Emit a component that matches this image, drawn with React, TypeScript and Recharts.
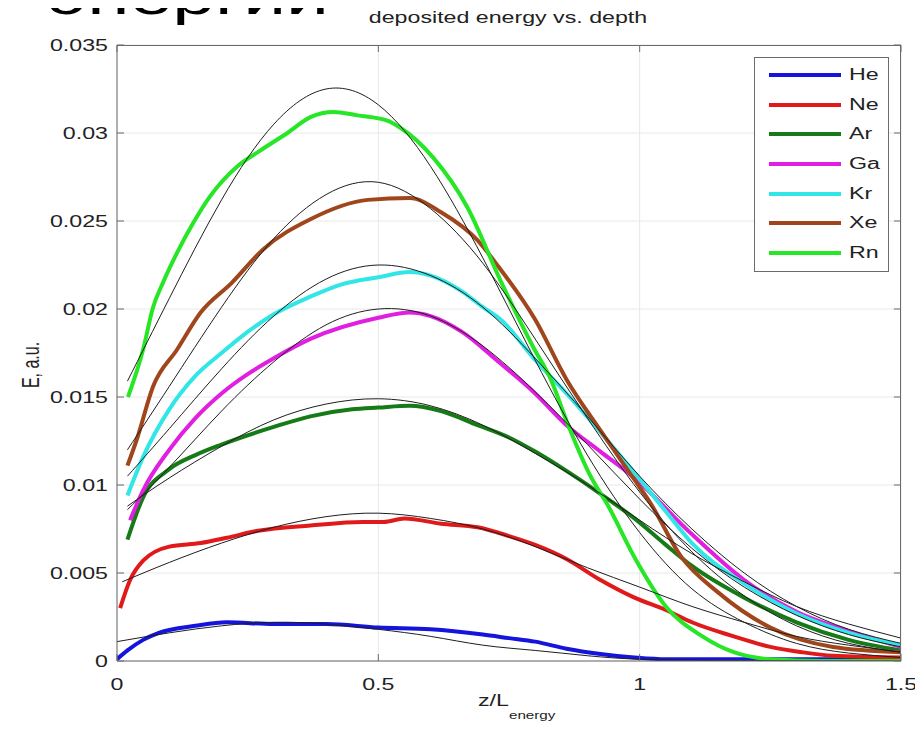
import React from 'react';
import { LineChart, Line, XAxis, YAxis, CartesianGrid, Legend } from 'recharts';

// measured curves [z/L, E]
const heLine = [[0, 0.0001], [0.02, 0.0006], [0.05, 0.0012], [0.08, 0.0016], [0.15, 0.002], [0.21, 0.0022], [0.3, 0.0021], [0.4, 0.0021], [0.5, 0.0019], [0.6, 0.0018], [0.7, 0.0015], [0.75, 0.0013], [0.8, 0.0011], [0.86, 0.0007], [0.925, 0.0004], [0.99, 0.0002], [1.05, 0.0001], [1.2, 0.0001], [1.5, 0.0001]];
const neLine = [[0.006, 0.003], [0.025, 0.0046], [0.05, 0.0057], [0.1, 0.0065], [0.16, 0.0067], [0.21, 0.007], [0.27, 0.0074], [0.37, 0.0077], [0.47, 0.0079], [0.51, 0.0079], [0.55, 0.0081], [0.62, 0.0078], [0.69, 0.0076], [0.75, 0.0071], [0.8, 0.0066], [0.86, 0.0058], [0.925, 0.0046], [0.99, 0.0036], [1.05, 0.0029], [1.1, 0.0022], [1.18, 0.0014], [1.25, 0.0008], [1.31, 0.0005], [1.37, 0.0003], [1.5, 0.0002]];
const arLine = [[0.02, 0.0069], [0.05, 0.0093], [0.1, 0.0109], [0.15, 0.0117], [0.2, 0.0123], [0.3, 0.0133], [0.37, 0.0139], [0.45, 0.0143], [0.5, 0.0144], [0.56, 0.0145], [0.62, 0.0142], [0.69, 0.0134], [0.75, 0.0127], [0.8, 0.0119], [0.86, 0.0108], [0.925, 0.0095], [0.99, 0.0081], [1.05, 0.0066], [1.1, 0.0054], [1.2, 0.0036], [1.3, 0.0022], [1.4, 0.0012], [1.5, 0.0006]];
const gaLine = [[0.025, 0.008], [0.05, 0.0097], [0.1, 0.012], [0.15, 0.0138], [0.2, 0.0152], [0.25, 0.0163], [0.3, 0.0172], [0.37, 0.0183], [0.5, 0.0195], [0.56, 0.0198], [0.6, 0.0196], [0.66, 0.0187], [0.73, 0.017], [0.8, 0.0152], [0.86, 0.0134], [0.925, 0.0119], [0.99, 0.0104], [1.1, 0.0072], [1.2, 0.0046], [1.3, 0.0028], [1.4, 0.0017], [1.5, 0.0008]];
const krLine = [[0.02, 0.0094], [0.05, 0.0116], [0.1, 0.0143], [0.15, 0.0162], [0.2, 0.0175], [0.25, 0.0187], [0.3, 0.0197], [0.37, 0.0207], [0.43, 0.0214], [0.5, 0.0218], [0.56, 0.0221], [0.6, 0.0219], [0.66, 0.021], [0.7, 0.0201], [0.734, 0.0194], [0.8, 0.0171], [0.86, 0.0152], [0.925, 0.013], [0.99, 0.0107], [1.05, 0.0085], [1.1, 0.0067], [1.2, 0.0044], [1.3, 0.0027], [1.4, 0.0016], [1.5, 0.0009]];
const xeLine = [[0.02, 0.0111], [0.038, 0.0126], [0.069, 0.0156], [0.115, 0.0177], [0.16, 0.0198], [0.22, 0.0215], [0.28, 0.0234], [0.37, 0.0251], [0.48, 0.0262], [0.56, 0.0263], [0.62, 0.0255], [0.69, 0.0239], [0.73, 0.0224], [0.8, 0.0194], [0.86, 0.016], [0.925, 0.0131], [0.99, 0.0103], [1.02, 0.009], [1.08, 0.0059], [1.15, 0.0039], [1.25, 0.0019], [1.37, 0.0008], [1.5, 0.0005]];
const rnLine = [[0.021, 0.015], [0.05, 0.0177], [0.069, 0.0201], [0.088, 0.0215], [0.115, 0.0232], [0.146, 0.0249], [0.178, 0.0264], [0.23, 0.0281], [0.274, 0.029], [0.326, 0.03], [0.37, 0.0309], [0.414, 0.0312], [0.46, 0.031], [0.517, 0.0307], [0.542, 0.0303], [0.605, 0.0286], [0.67, 0.0258], [0.734, 0.0216], [0.797, 0.0178], [0.83, 0.016], [0.862, 0.0135], [0.906, 0.0105], [0.94, 0.0088], [0.99, 0.0059], [1.05, 0.0031], [1.12, 0.0014], [1.18, 0.0005], [1.25, 0.0001], [1.35, 0], [1.5, 0]];

// fitted curves (thin black)
const heFit = [[0, 0.0011], [0.1, 0.0016], [0.2, 0.002], [0.3, 0.0022], [0.4, 0.0021], [0.5, 0.0018], [0.6, 0.0014], [0.7, 0.0009], [0.8, 0.0006], [0.9, 0.0003], [1.0, 0.0001], [1.1, 0.00005], [1.2, 0.00002], [1.5, 0]];
const neFit = [[0.01, 0.0045], [0.1, 0.0056], [0.2, 0.0067], [0.3, 0.0076], [0.4, 0.0082], [0.5, 0.0084], [0.6, 0.0081], [0.7, 0.0075], [0.8, 0.0065], [0.9, 0.0053], [1.0, 0.0042], [1.1, 0.0031], [1.2, 0.0022], [1.3, 0.0014], [1.4, 0.0009], [1.5, 0.0005]];
const arFit = [[0.02, 0.0088], [0.1, 0.0104], [0.2, 0.0122], [0.3, 0.0137], [0.4, 0.0146], [0.5, 0.0149], [0.6, 0.0145], [0.7, 0.0134], [0.8, 0.0118], [0.9, 0.01], [1.0, 0.008], [1.1, 0.0061], [1.2, 0.0045], [1.3, 0.0031], [1.4, 0.0021], [1.5, 0.0013]];
const gaFit = [[0.02, 0.0086], [0.1, 0.011], [0.2, 0.0142], [0.3, 0.017], [0.4, 0.0191], [0.5, 0.02], [0.6, 0.0196], [0.7, 0.0179], [0.8, 0.0153], [0.9, 0.0123], [1.0, 0.0092], [1.1, 0.0064], [1.2, 0.0042], [1.3, 0.0026], [1.4, 0.0015], [1.5, 0.0008]];
const krFit = [[0.02, 0.0105], [0.1, 0.0132], [0.2, 0.0166], [0.3, 0.0196], [0.4, 0.0217], [0.5, 0.0225], [0.6, 0.0219], [0.7, 0.0201], [0.8, 0.0172], [0.9, 0.0139], [1.0, 0.0105], [1.1, 0.0075], [1.2, 0.005], [1.3, 0.0031], [1.4, 0.0018], [1.5, 0.001]];
const xeFit = [[0.02, 0.012], [0.1, 0.0156], [0.2, 0.0201], [0.3, 0.024], [0.4, 0.0265], [0.5, 0.0272], [0.6, 0.0257], [0.7, 0.0226], [0.8, 0.0183], [0.9, 0.0138], [1.0, 0.0096], [1.1, 0.0062], [1.2, 0.0037], [1.3, 0.002], [1.4, 0.001], [1.5, 0.0005]];
const rnFit = [[0.02, 0.0159], [0.1, 0.0206], [0.2, 0.0262], [0.3, 0.0305], [0.4, 0.0325], [0.5, 0.0316], [0.6, 0.0281], [0.7, 0.0229], [0.8, 0.0171], [0.9, 0.0117], [1.0, 0.0073], [1.1, 0.0041], [1.2, 0.0022], [1.3, 0.001], [1.4, 0.00045], [1.5, 0.0002]];

const xTicks = [0, 0.5, 1, 1.5];
const yTicks = [0, 0.005, 0.01, 0.015, 0.02, 0.025, 0.03, 0.035];
const X_MAX = 1.5;
const Y_MAX = 0.035;

const series = [
  { name: 'He', color: '#1414dc', line: heLine, fit: heFit },
  { name: 'Ne', color: '#e01a1a', line: neLine, fit: neFit },
  { name: 'Ar', color: '#167a16', line: arLine, fit: arFit },
  { name: 'Ga', color: '#e01fe0', line: gaLine, fit: gaFit },
  { name: 'Kr', color: '#30e6e6', line: krLine, fit: krFit },
  { name: 'Xe', color: '#a0461c', line: xeLine, fit: xeFit },
  { name: 'Rn', color: '#26e626', line: rnLine, fit: rnFit },
];

const toPoints = (pairs: number[][]) => pairs.map(([z, e]) => ({ z, e }));

// plot box in page pixels
const W = 923;
const H = 739;
const M = { top: 45, right: 22, bottom: 48, left: 0 };
const X_AXIS_H = 30;
const Y_AXIS_W = 117;
const BOX = { left: Y_AXIS_W, top: M.top, right: W - M.right, bottom: H - M.bottom - X_AXIS_H };

const FONT = '"Liberation Sans", Arial, sans-serif';
const AXIS = '#6b6b6b';
const SX = 1.45; // the original picture is stretched sideways

const stretch = (x: number) => `translate(${x} 0) scale(${SX} 1) translate(${-x} 0)`;

const BottomTick = ({ x, y, payload }: any) => (
  <g>
    <line x1={x} y1={y} x2={x} y2={y - 7} stroke={AXIS} />
    <text x={x} y={y + 29} textAnchor="middle" fontSize={16} fontFamily={FONT} fill="#222" transform={stretch(x)}>
      {payload.value}
    </text>
  </g>
);

const LeftTick = ({ x, y, payload }: any) => (
  <g>
    <line x1={x} y1={y} x2={x + 7} y2={y} stroke={AXIS} />
    <text x={x - 9} y={y + 6} textAnchor="end" fontSize={16} fontFamily={FONT} fill="#222" transform={stretch(x - 9)}>
      {payload.value}
    </text>
  </g>
);

// legend keeps the plotting order, not alphabetical
const renderLegend = () => (
  <div style={{ width: 133, height: 211, border: `1px solid ${AXIS}`, background: '#fff', paddingTop: 2, boxSizing: 'content-box' }}>
    {series.map((s) => (
      <div key={s.name} style={{ height: 29.7, display: 'flex', alignItems: 'center' }}>
        <div style={{ width: 72, height: 4, background: s.color, marginLeft: 14, marginRight: 8 }} />
        <span style={{ fontFamily: FONT, fontSize: 16, color: '#222', display: 'inline-block', transform: `scaleX(${SX})`, transformOrigin: 'left center' }}>
          {s.name}
        </span>
      </div>
    ))}
  </div>
);

export default function App() {
  const bw = BOX.right - BOX.left;
  const bh = BOX.bottom - BOX.top;
  return (
    <div style={{ position: 'relative', width: W, height: H, margin: -8, overflow: 'hidden', background: '#fff' }}>
      <LineChart width={W} height={H} margin={M}>
        <CartesianGrid stroke="#e8e8e8" />
        <XAxis
          dataKey="z"
          type="number"
          domain={[0, X_MAX]}
          ticks={xTicks}
          height={X_AXIS_H}
          tickSize={0}
          tickMargin={0}
          tick={<BottomTick />}
          stroke={AXIS}
          allowDataOverflow
        />
        <YAxis
          type="number"
          domain={[0, Y_MAX]}
          ticks={yTicks}
          width={Y_AXIS_W}
          tickSize={0}
          tickMargin={0}
          tick={<LeftTick />}
          stroke={AXIS}
          allowDataOverflow
        />
        {series.map((s) => (
          <Line
            key={s.name}
            data={toPoints(s.line)}
            dataKey="e"
            name={s.name}
            type="monotone"
            stroke={s.color}
            strokeWidth={4}
            dot={false}
            activeDot={false}
            isAnimationActive={false}
          />
        ))}
        {series.map((s) => (
          <Line
            key={s.name + '-fit'}
            data={toPoints(s.fit)}
            dataKey="e"
            name={s.name + ' fit'}
            type="natural"
            stroke="#1e1e1e"
            strokeWidth={1}
            dot={false}
            activeDot={false}
            legendType="none"
            isAnimationActive={false}
          />
        ))}
        <Legend
          layout="vertical"
          align="center"
          verticalAlign="middle"
          content={renderLegend}
          wrapperStyle={{ position: 'absolute', left: 754, top: 57, width: 'auto' }}
        />
      </LineChart>

      <svg width={W} height={H} style={{ position: 'absolute', left: 0, top: 0, pointerEvents: 'none' }}>
        {/* MATLAB-style box: top and right edges with inward ticks */}
        <line x1={BOX.left} y1={BOX.top + 0.5} x2={BOX.right} y2={BOX.top + 0.5} stroke={AXIS} />
        <line x1={BOX.right - 0.5} y1={BOX.top} x2={BOX.right - 0.5} y2={BOX.bottom} stroke={AXIS} />
        {xTicks.map((t) => {
          const x = BOX.left + (t / X_MAX) * bw;
          return <line key={'tx' + t} x1={x} y1={BOX.top} x2={x} y2={BOX.top + 7} stroke={AXIS} />;
        })}
        {yTicks.map((t) => {
          const y = BOX.bottom - (t / Y_MAX) * bh;
          return <line key={'ty' + t} x1={BOX.right} y1={y} x2={BOX.right - 7} y2={y} stroke={AXIS} />;
        })}

        <text x={48} y={14} fontSize={53} fontFamily={FONT} fill="#000" transform={stretch(48)}>
          энергии
        </text>
        <text x={508} y={23} textAnchor="middle" fontSize={16} fontFamily={FONT} fill="#222" transform={stretch(508)}>
          deposited energy vs. depth
        </text>
        <text x={478} y={706} fontSize={16} fontFamily={FONT} fill="#222" transform={stretch(478)}>
          z/L
          <tspan dy={13} fontSize={10.5}>energy</tspan>
        </text>
        <text
          textAnchor="middle"
          fontSize={16}
          fontFamily={FONT}
          fill="#222"
          transform={`translate(39 365) rotate(-90) scale(1 ${SX})`}
        >
          E, a.u.
        </text>
      </svg>
    </div>
  );
}
